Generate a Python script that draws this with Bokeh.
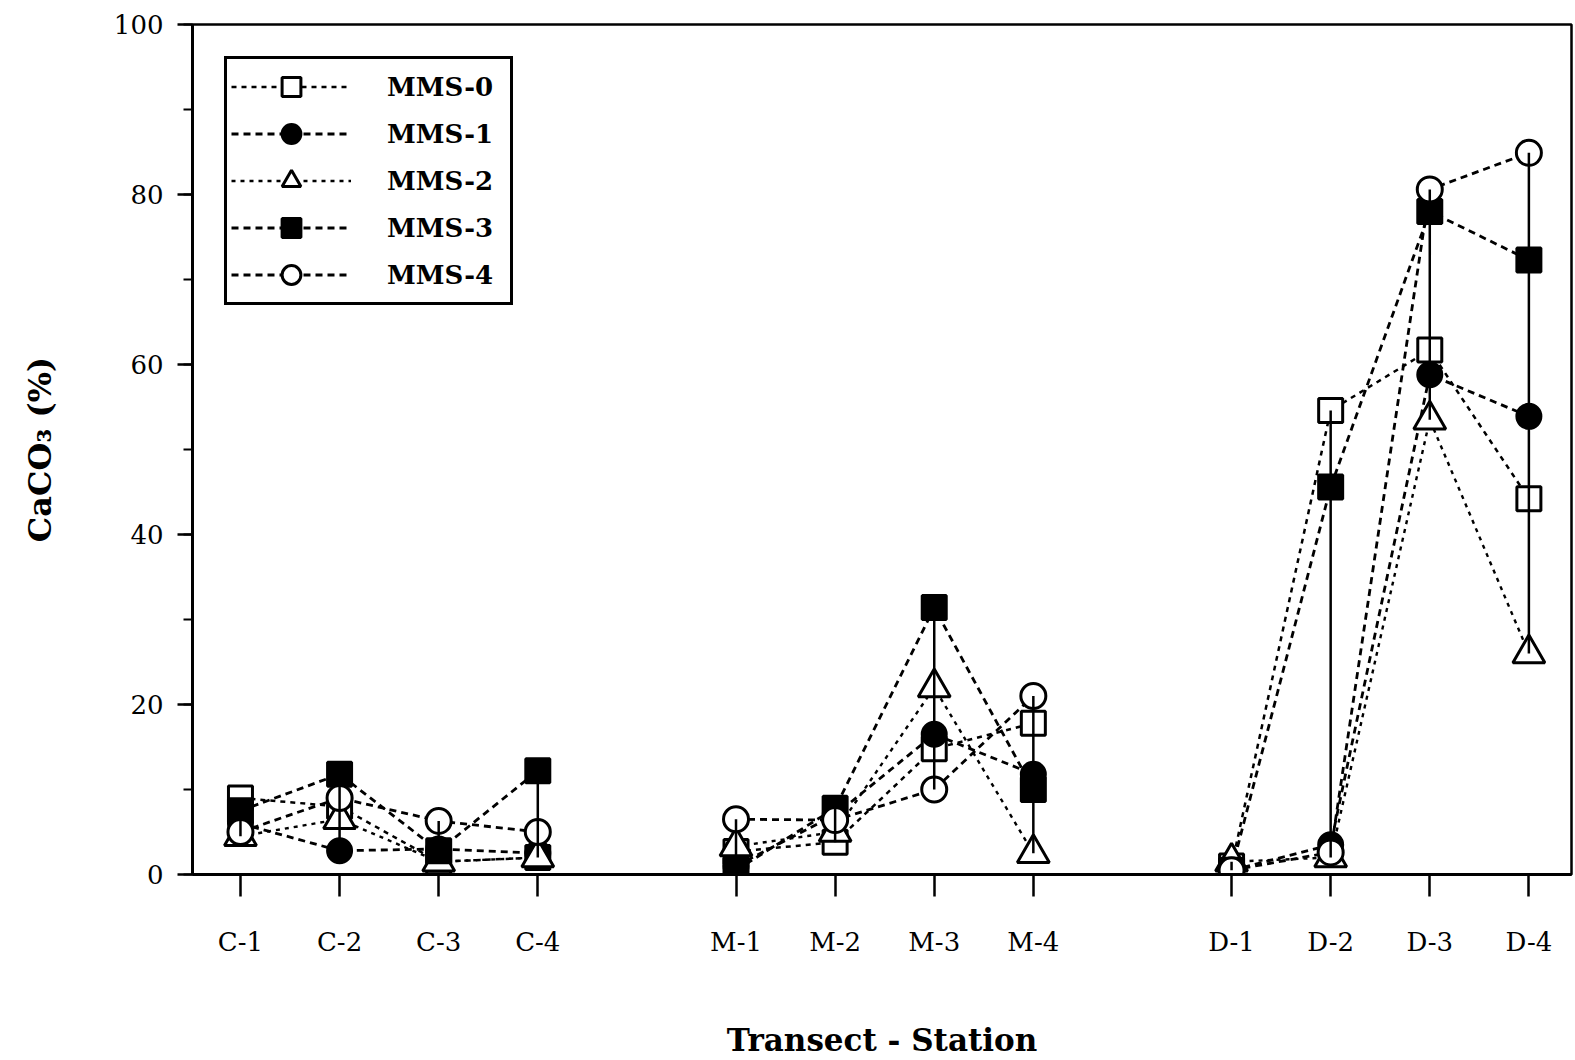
import math
from bokeh.plotting import figure
from bokeh.models import (Range1d, FixedTicker, SingleIntervalTicker, Legend,
                          LegendItem)
from bokeh.embed import file_html
from bokeh.resources import INLINE

# Sampling stations along three transects
transects = ["C", "M", "D"]
station_labels = ["C-1", "C-2", "C-3", "C-4",
                  "M-1", "M-2", "M-3", "M-4",
                  "D-1", "D-2", "D-3", "D-4"]

# CaCO3 content (%) per sample series
series_names = ["MMS-0", "MMS-1", "MMS-2", "MMS-3", "MMS-4"]
mms0 = [9.0, 8.0, 1.5, 2.0, 2.7, 3.8, 14.8, 17.8, 1.0, 54.6, 61.7, 44.2]
mms1 = [6.0, 2.8, 3.0, 2.5, 1.0, 7.0, 16.5, 11.8, 0.5, 3.5, 58.8, 53.9]
mms2 = [4.5, 6.5, 1.5, 2.0, 3.3, 5.0, 22.0, 2.5, 1.5, 2.0, 53.5, 26.0]
mms3 = [7.5, 11.8, 2.8, 12.2, 0.5, 7.8, 31.4, 10.0, 0.5, 45.6, 78.0, 72.3]
mms4 = [5.0, 9.0, 6.3, 5.0, 6.5, 6.4, 10.0, 21.0, 0.5, 2.6, 80.6, 84.9]
all_series = [mms0, mms1, mms2, mms3, mms4]

# x position of each station: 4 stations per transect, one empty slot between transects
per_group = 4
xpos = [g * (per_group + 1) + i + 1 for g in range(len(transects)) for i in range(per_group)]


def broken(values):
    """Insert NaN between transects so the dashed lines do not join groups."""
    xs, ys = [], []
    for g in range(len(transects)):
        sl = slice(g * per_group, (g + 1) * per_group)
        xs += xpos[sl] + [math.nan]
        ys += values[sl] + [math.nan]
    return xs[:-1], ys[:-1]


FONT = "DejaVu Serif"

p = figure(width=1575, height=1060, output_backend="svg", toolbar_location=None,
           x_range=Range1d(0.516, 14.43), y_range=Range1d(0, 100),
           min_border_left=192, min_border_right=4, min_border_top=24,
           min_border_bottom=185)
p.xgrid.visible = False
p.ygrid.visible = False
p.outline_line_color = "black"
p.outline_line_alpha = 1.0
p.outline_line_width = 2.5
p.background_fill_color = "white"
p.border_fill_color = "white"

# x axis: station labels
p.xaxis.ticker = FixedTicker(ticks=xpos)
p.xaxis.major_label_overrides = {x: lab for x, lab in zip(xpos, station_labels)}
p.xaxis.axis_label = "Transect - Station"

# y axis
p.yaxis.ticker = SingleIntervalTicker(interval=20, num_minor_ticks=2)
p.yaxis.axis_label = "CaCO\u2083 (%)"

for ax in (p.xaxis[0], p.yaxis[0]):
    ax.axis_line_width = 3
    ax.axis_line_color = "black"
    ax.major_tick_line_width = 2.5
    ax.major_tick_line_color = "black"
    ax.minor_tick_line_width = 2
    ax.minor_tick_line_color = "black"
    ax.major_tick_in = 0
    ax.minor_tick_in = 0
    ax.major_label_text_font = FONT
    ax.major_label_text_font_size = "26px"
    ax.major_label_text_color = "black"
    ax.axis_label_text_font = FONT
    ax.axis_label_text_font_style = "bold"
    ax.axis_label_text_color = "black"

p.xaxis.major_tick_out = 22
p.xaxis.major_label_standoff = 30
p.xaxis.axis_label_text_font_size = "31px"
p.xaxis.axis_label_standoff = 62

p.yaxis.major_tick_out = 15
p.yaxis.minor_tick_out = 9
p.yaxis.major_label_standoff = 14
p.yaxis.axis_label_text_font_size = "32px"
p.yaxis.axis_label_standoff = 52

markers = ["square", "circle", "triangle", "square", "circle"]
fills = ["white", "black", "white", "black", "white"]
sizes = [24, 24, 32, 24, 25]
dashes = ["5 5", "7 5", "4 5", "7 5", "7 5"]
widths = [2.5, 2.8, 2.4, 2.8, 2.8]

line_renderers = []
for vals, dash, lw in zip(all_series, dashes, widths):
    lx, ly = broken(vals)
    line_renderers.append(p.line(lx, ly, line_color="black", line_width=lw,
                                 line_dash=dash))

marker_renderers = []
for vals, mk, fc, sz in zip(all_series, markers, fills, sizes):
    marker_renderers.append(p.scatter(xpos, vals, marker=mk, size=sz,
                                      fill_color=fc, line_color="black",
                                      line_width=3))

# solid range line at each station, from lowest to highest series value
lows = [min(v) for v in zip(*all_series)]
highs = [max(v) for v in zip(*all_series)]
p.segment(x0=xpos, y0=lows, x1=xpos, y1=highs, line_color="black", line_width=2.5)

legend = Legend(items=[LegendItem(label=name, renderers=[lr, mr])
                       for name, lr, mr in zip(series_names, line_renderers, marker_renderers)],
                location="top_left", margin=32, padding=4, spacing=0,
                glyph_height=47, glyph_width=120, label_standoff=36,
                label_width=119,
                label_text_font=FONT, label_text_font_style="bold",
                label_text_font_size="26px", label_text_color="black",
                border_line_color="black", border_line_alpha=1.0,
                border_line_width=3,
                background_fill_color="white", background_fill_alpha=1.0)
p.add_layout(legend, "center")

open("out.html", "w").write(file_html(p, INLINE))
